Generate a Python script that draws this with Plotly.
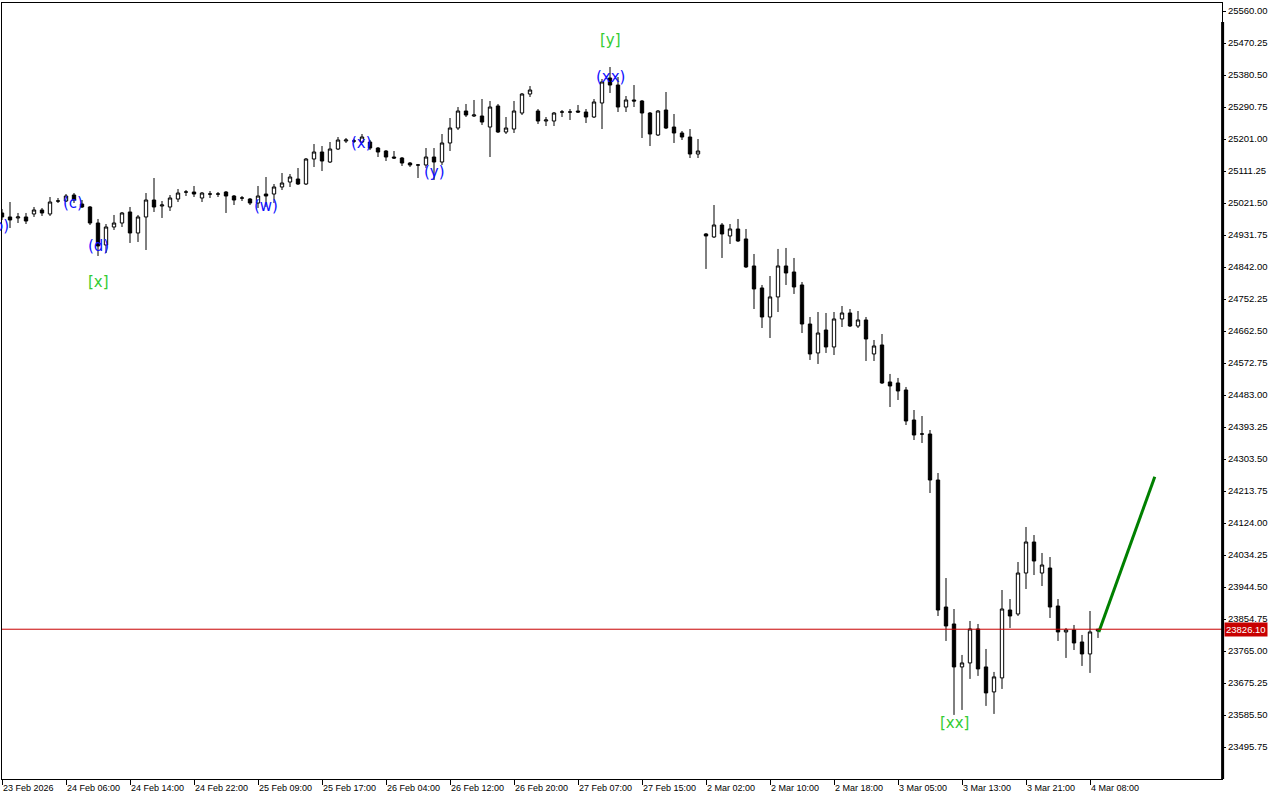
import plotly.graph_objects as go

# ---------------- data (prices) ----------------
opens = [24993.5, 24982.3, 24979.5, 24982.3, 24990.7, 25001.9, 24990.7, 25027.1, 25027.1, 25043.9,
         25018.7, 25010.3, 24965.4, 24903.8, 24954.2, 24965.4, 24996.3, 24937.4, 24982.3, 25029.9,
         25013.1, 25010.3, 25032.7, 25052.3, 25052.3, 25035.5, 25046.7, 25046.7, 25052.3, 25041.1,
         25035.5, 25032.7, 25021.5, 25046.7, 25046.7, 25066.4, 25080.4, 25088.8, 25074.8, 25144.9,
         25164.5, 25136.5, 25172.9, 25195.4, 25195.4, 25192.6, 25192.6, 25175.7, 25167.3, 25150.5,
         25147.7, 25133.7, 25128.1, 25128.1, 25150.5, 25136.5, 25189.8, 25231.8, 25279.5, 25265.5,
         25265.5, 25234.6, 25293.6, 25220.6, 25229.0, 25273.9, 25327.2, 25279.5, 25251.5, 25251.5,
         25276.7, 25276.7, 25279.5, 25276.7, 25262.7, 25302.0, 25372.1, 25352.4, 25290.7, 25310.4,
         25307.6, 25273.9, 25212.2, 25282.3, 25234.6, 25217.8, 25206.6, 25158.9, 24934.6, 24926.2,
         24959.8, 24929.0, 24948.6, 24920.6, 24844.9, 24783.2, 24701.8, 24758.0, 24844.9, 24828.0,
         24791.6, 24682.1, 24600.9, 24665.3, 24617.7, 24696.2, 24713.0, 24676.5, 24693.4, 24598.1,
         24623.3, 24519.5, 24516.7, 24497.1, 24412.9, 24373.6, 24373.6, 24244.6, 23888.4, 23840.8,
         23720.3, 23731.5, 23826.8, 23720.3, 23650.2, 23689.5, 23880.0, 23868.8, 23983.7, 24070.7,
         23983.7, 23997.8, 23891.2, 23818.4, 23824.0, 23790.3, 23756.7, 23821.2]
highs = [25004.7, 25024.3, 24993.5, 24993.5, 25010.3, 25007.5, 25038.3, 25035.5, 25046.7, 25049.5,
         25029.9, 25013.1, 24976.7, 24962.6, 24987.9, 24996.3, 25010.3, 24987.9, 25049.5, 25091.6,
         25027.1, 25043.9, 25060.8, 25057.9, 25069.2, 25052.3, 25055.1, 25052.3, 25055.1, 25043.9,
         25041.1, 25035.5, 25069.2, 25094.4, 25074.8, 25105.6, 25102.8, 25119.6, 25147.7, 25186.9,
         25181.3, 25192.6, 25206.6, 25203.8, 25201.0, 25215.0, 25198.2, 25178.5, 25170.1, 25167.3,
         25150.5, 25136.5, 25130.9, 25175.7, 25175.7, 25215.0, 25259.9, 25290.7, 25299.2, 25310.4,
         25313.2, 25307.6, 25299.2, 25262.7, 25307.6, 25330.0, 25349.6, 25285.1, 25262.7, 25276.7,
         25282.3, 25285.1, 25296.4, 25285.1, 25313.2, 25369.3, 25402.9, 25374.9, 25321.6, 25352.4,
         25310.4, 25276.7, 25282.3, 25332.8, 25271.1, 25223.4, 25229.0, 25201.0, 24937.4, 25015.9,
         24965.4, 24962.6, 24976.7, 24948.6, 24878.5, 24791.6, 24816.8, 24892.6, 24895.4, 24867.3,
         24800.0, 24701.8, 24715.8, 24713.0, 24715.8, 24732.6, 24724.2, 24718.6, 24701.8, 24637.3,
         24654.1, 24542.0, 24530.8, 24505.5, 24440.9, 24424.1, 24384.8, 24264.2, 23969.7, 23882.8,
         23753.9, 23849.2, 23840.8, 23770.7, 23706.3, 23936.1, 23910.8, 24014.6, 24112.8, 24090.3,
         24039.9, 24028.6, 23910.8, 23829.6, 23838.0, 23810.0, 23877.2, 23827.0]
lows = [24973.9, 24951.4, 24965.4, 24962.6, 24982.3, 24985.1, 24985.1, 25021.5, 25024.3, 25021.5,
        25007.5, 24959.8, 24872.9, 24881.3, 24945.8, 24954.2, 24909.4, 24912.2, 24889.7, 24996.3,
        24979.5, 24999.1, 25024.3, 25041.1, 25038.3, 25024.3, 25035.5, 25038.3, 24993.5, 25015.9,
        25027.1, 25015.9, 25007.5, 25010.3, 25021.5, 25057.9, 25066.4, 25072.0, 25072.0, 25122.4,
        25111.2, 25133.7, 25170.1, 25189.8, 25189.8, 25189.8, 25170.1, 25150.5, 25139.3, 25144.9,
        25125.3, 25122.4, 25091.6, 25119.6, 25086.0, 25128.1, 25167.3, 25226.2, 25262.7, 25262.7,
        25240.2, 25150.5, 25217.8, 25215.0, 25217.8, 25268.3, 25318.8, 25243.0, 25237.4, 25237.4,
        25262.7, 25254.3, 25273.9, 25245.8, 25259.9, 25229.0, 25330.0, 25276.7, 25276.7, 25290.7,
        25203.8, 25181.3, 25209.4, 25229.0, 25189.8, 25198.2, 25147.7, 25147.7, 24836.5, 24923.4,
        24867.3, 24906.6, 24912.2, 24839.3, 24724.2, 24670.9, 24642.9, 24715.8, 24791.6, 24766.4,
        24656.9, 24581.2, 24570.0, 24600.9, 24595.2, 24673.7, 24673.7, 24670.9, 24578.4, 24578.4,
        24513.9, 24449.3, 24469.0, 24398.8, 24356.8, 24348.4, 24208.1, 23863.2, 23793.2, 23585.7,
        23599.7, 23686.7, 23695.1, 23611.0, 23588.5, 23658.6, 23829.6, 23863.2, 23938.9, 23978.1,
        23947.3, 23857.6, 23793.2, 23745.5, 23767.9, 23723.1, 23703.5, 23801.6]
closes = [24982.3, 24973.9, 24982.3, 24971.0, 25001.9, 24993.5, 25024.3, 25027.1, 25041.1, 25029.9,
          25010.3, 24965.4, 24901.0, 24954.2, 24965.4, 24993.5, 24937.4, 24982.3, 25029.9, 25010.3,
          25015.9, 25035.5, 25049.5, 25052.3, 25046.7, 25049.5, 25046.7, 25046.7, 25041.1, 25029.9,
          25035.5, 25021.5, 25041.1, 25041.1, 25066.4, 25077.6, 25094.4, 25074.8, 25144.9, 25164.5,
          25139.3, 25172.9, 25198.2, 25198.2, 25195.4, 25206.6, 25175.7, 25164.5, 25150.5, 25147.7,
          25133.7, 25128.1, 25128.1, 25150.5, 25136.5, 25189.8, 25231.8, 25279.5, 25268.3, 25268.3,
          25248.6, 25290.7, 25220.6, 25231.8, 25279.5, 25327.2, 25338.4, 25251.5, 25254.3, 25273.9,
          25276.7, 25276.7, 25276.7, 25262.7, 25304.8, 25360.9, 25352.4, 25290.7, 25310.4, 25307.6,
          25273.9, 25215.0, 25279.5, 25231.8, 25217.8, 25206.6, 25158.9, 25167.3, 24929.0, 24959.8,
          24934.6, 24948.6, 24915.0, 24842.1, 24780.4, 24701.8, 24758.0, 24844.9, 24825.2, 24786.0,
          24682.1, 24598.1, 24656.9, 24617.7, 24696.2, 24713.0, 24676.5, 24693.4, 24640.1, 24620.5,
          24516.7, 24508.3, 24494.3, 24410.1, 24370.8, 24373.6, 24244.6, 23880.0, 23835.2, 23720.3,
          23731.5, 23826.8, 23714.7, 23647.4, 23692.3, 23882.8, 23863.2, 23983.7, 24070.7, 24017.4,
          24006.2, 23888.4, 23818.4, 23824.0, 23787.5, 23756.7, 23818.4, 23826.1]

tick_index = [0, 8, 16, 24, 32, 40, 48, 56, 64, 72, 80, 88, 96, 104, 112, 120, 128, 136]
tick_labels = ["23 Feb 2026", "24 Feb 06:00", "24 Feb 14:00", "24 Feb 22:00", "25 Feb 09:00",
               "25 Feb 17:00", "26 Feb 04:00", "26 Feb 12:00", "26 Feb 20:00", "27 Feb 07:00",
               "27 Feb 15:00", "2 Mar 02:00", "2 Mar 10:00", "2 Mar 18:00", "3 Mar 05:00",
               "3 Mar 13:00", "3 Mar 21:00", "4 Mar 08:00"]

price_ticks = [25560.00 - 89.75 * k for k in range(24)]
current_price = 23826.10

projection_x = [137.1, 144.1]
projection_y = [23818.0, 24254.0]

wave_minor = [("(c)", 8.9, 25021.5), ("(d)", 12.0, 24901.0), ("(w)", 33.0, 25013.1),
              ("(x)", 44.9, 25189.8), ("(y)", 54.0, 25108.0), ("(xx)", 76.0, 25375.0)]
wave_major = [("[x]", 12.0, 24800.0), ("[y]", 76.0, 25478.7), ("[xx]", 119.0, 23563.0)]

# ---------------- figure ----------------
xs = list(range(len(opens)))
fig = go.Figure()
fig.add_trace(go.Candlestick(
    x=xs, open=opens, high=highs, low=lows, close=closes,
    increasing=dict(line=dict(color="black", width=1), fillcolor="white"),
    decreasing=dict(line=dict(color="black", width=1), fillcolor="black"),
    whiskerwidth=0, showlegend=False, hoverinfo="skip"))

fig.add_trace(go.Scatter(x=projection_x, y=projection_y, mode="lines",
                         line=dict(color="#008000", width=3), showlegend=False,
                         hoverinfo="skip"))

annotations = []
for txt, xi, yv in wave_minor:
    annotations.append(dict(x=xi, y=yv, xref="x", yref="y", text=txt, showarrow=False,
                            font=dict(family="DejaVu Sans", size=15, color="#1010FF")))
for txt, xi, yv in wave_major:
    annotations.append(dict(x=xi, y=yv, xref="x", yref="y", text=txt, showarrow=False,
                            font=dict(family="DejaVu Sans", size=15, color="#33CC33")))
# partially hidden label at the left edge (only its closing bracket is visible)
annotations.append(dict(x=-0.0135, y=24957.0, xref="paper", yref="y", text="(b)",
                        showarrow=False,
                        font=dict(family="DejaVu Sans", size=15, color="#1010FF")))
# current price tag
annotations.append(dict(x=1.0017, y=current_price, xref="paper", yref="y",
                        text=f"{current_price:.2f}", showarrow=False, xanchor="left",
                        bgcolor="#C80000", borderpad=1,
                        font=dict(family="Liberation Sans", size=9.5, color="white")))

shapes = [
    dict(type="line", xref="paper", yref="y", x0=0, x1=1, y0=current_price, y1=current_price,
         line=dict(color="#C80000", width=1)),
    dict(type="line", xref="paper", yref="paper", x0=1.0005, x1=1.0005, y0=0,
         y1=(779 - 22) / 776, line=dict(color="black", width=3)),
]

fig.update_layout(
    width=1280, height=800,
    margin=dict(l=2, r=58, t=3, b=21, pad=0, autoexpand=False),
    paper_bgcolor="white", plot_bgcolor="white",
    boxgap=0.4,
    annotations=annotations, shapes=shapes,
    xaxis=dict(range=[0, 152.5], showgrid=False, zeroline=False, automargin=False,
               tickmode="array", tickvals=tick_index, ticktext=tick_labels, tickangle=0,
               ticks="outside", ticklen=5, tickcolor="black", tickwidth=1,
               ticklabelposition="outside right",
               tickfont=dict(family="Liberation Sans", size=9, color="black"),
               showline=True, linecolor="black", linewidth=1, mirror=True,
               rangeslider=dict(visible=False), fixedrange=True),
    yaxis=dict(side="right", range=[23406.0, 25582.44], showgrid=False, zeroline=False,
               automargin=False,
               tickmode="array", tickvals=price_ticks,
               ticktext=[f"{v:.2f}" for v in price_ticks],
               ticks="outside", ticklen=3, tickcolor="black", tickwidth=1,
               tickfont=dict(family="Liberation Sans", size=9.5, color="black"),
               showline=True, linecolor="black", linewidth=1, mirror=True,
               fixedrange=True),
)

fig.write_html("out.html", config={"displayModeBar": False},
               post_script="document.body.style.margin='0';document.body.style.overflow='hidden';")
